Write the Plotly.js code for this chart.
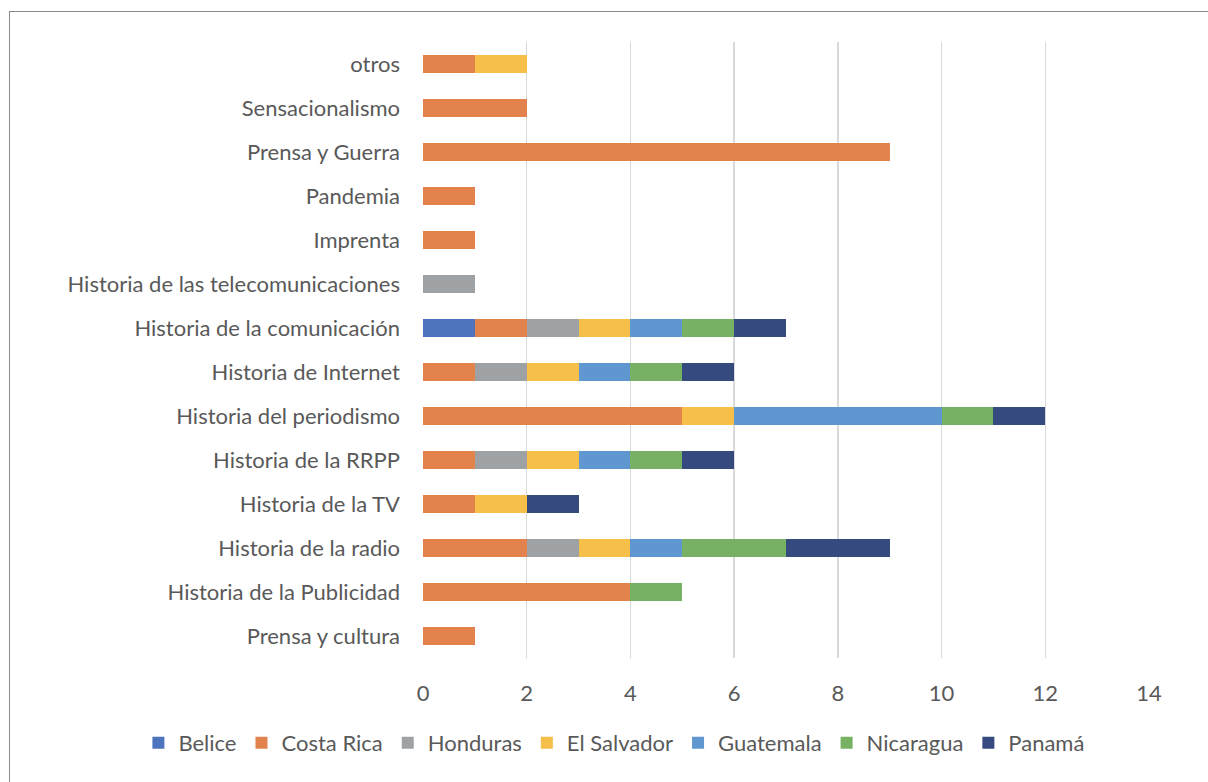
<!DOCTYPE html>
<html>
<head>
<meta charset="utf-8">
<script src="https://cdn.plot.ly/plotly-3.0.1.min.js"></script>
<style>
html,body{margin:0;padding:0;background:#fff;overflow:hidden;}
#chart{position:absolute;left:0;top:0;width:1208px;height:782px;}
#frame{position:absolute;left:9px;top:11px;width:1210px;height:790px;border-left:1.5px solid #8a8a8a;border-top:1.5px solid #8a8a8a;pointer-events:none;}
</style>
</head>
<body>
<div id="chart"></div>
<div id="frame"></div>
<script>
const categories = [
  "Prensa y cultura",
  "Historia de la Publicidad",
  "Historia de la radio",
  "Historia de la TV",
  "Historia de la RRPP",
  "Historia del periodismo",
  "Historia de Internet",
  "Historia de la comunicación",
  "Historia de las telecomunicaciones",
  "Imprenta",
  "Pandemia",
  "Prensa y Guerra",
  "Sensacionalismo",
  "otros"
];
const belice     = [0,0,0,0,0,0,0,1,0,0,0,0,0,0];
const costaRica  = [1,4,2,1,1,5,1,1,0,1,1,9,2,1];
const honduras   = [0,0,1,0,1,0,1,1,1,0,0,0,0,0];
const elSalvador = [0,0,1,1,1,1,1,1,0,0,0,0,0,1];
const guatemala  = [0,0,1,0,1,4,1,1,0,0,0,0,0,0];
const nicaragua  = [0,1,2,0,1,1,1,1,0,0,0,0,0,0];
const panama     = [0,0,2,1,1,1,1,1,0,0,0,0,0,0];
const xTicks = [0,2,4,6,8,10,12,14];

const seriesNames = ["Belice","Costa Rica","Honduras","El Salvador","Guatemala","Nicaragua","Panamá"];
const seriesVals = [belice,costaRica,honduras,elSalvador,guatemala,nicaragua,panama];
const colors = ["#4E74BE","#E2834D","#9FA2A5","#F5BF4A","#6097D0","#77B164","#354A7E"];

const traces = seriesNames.map((n,i)=>({
  type:'bar', orientation:'h', name:n,
  y:categories, x:seriesVals[i],
  marker:{color:colors[i], line:{width:0}},
  hoverinfo:'x+name'
}));

const font = "Lato, Open Sans, sans-serif";
const fs = 22;
const layout = {
  width:1208, height:782,
  barmode:'stack', bargap:0.6,
  paper_bgcolor:'rgba(0,0,0,0)', plot_bgcolor:'rgba(0,0,0,0)',
  margin:{l:423, r:59, t:42, b:124, pad:0},
  font:{family:font, size:fs, color:'#595959'},
  xaxis:{range:[0,14], tickvals:xTicks, ticktext:xTicks.map(String),
    showgrid:true, gridcolor:'#D9D9D9', gridwidth:1.5,
    zeroline:false, showline:false, ticks:'', ticklabelstandoff:20,
    tickfont:{family:font, size:fs, color:'#595959'}, fixedrange:true},
  yaxis:{type:'category', showgrid:false, zeroline:false, showline:false,
    ticks:'', ticklabelstandoff:22,
    tickfont:{family:font, size:fs, color:'#595959'}, fixedrange:true},
  showlegend:true,
  legend:{orientation:'h', xref:'paper', yref:'paper', x:-0.392, xanchor:'left',
    y:-0.138, yanchor:'middle', traceorder:'normal',
    font:{family:font, size:fs, color:'#595959'}, itemwidth:30, tracegroupgap:0},
};
Plotly.newPlot('chart', traces, layout, {displayModeBar:false, staticPlot:true});
</script>
</body>
</html>
